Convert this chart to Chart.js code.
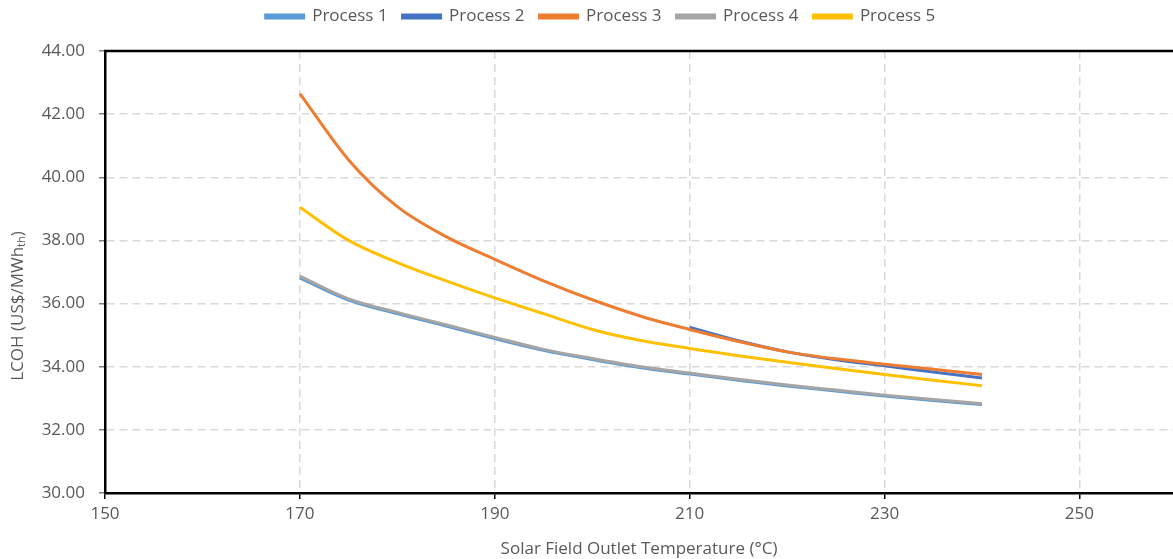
<!DOCTYPE html>
<html>
<head>
<meta charset="utf-8">
<script src="https://cdn.jsdelivr.net/npm/chart.js@4/dist/chart.umd.min.js"></script>
<style>
  html, body { margin: 0; background: #fff; }
</style>
</head>
<body>
<canvas id="chart" width="1173" height="559"></canvas>
<script>
(function () {

  const temperatures = [170, 175, 180, 185, 190, 195, 200, 205, 210, 215, 220, 225, 230, 235, 240];
  const process1 = [36.81, 36.11, 35.68, 35.29, 34.89, 34.52, 34.23, 33.97, 33.77, 33.57, 33.39, 33.23, 33.07, 32.93, 32.80];
  const process2 = [null, null, null, null, null, null, null, null, 35.24, 34.82, 34.47, 34.22, 34.03, 33.83, 33.64];
  const process3 = [42.65, 40.55, 39.07, 38.12, 37.40, 36.72, 36.12, 35.60, 35.18, 34.80, 34.47, 34.25, 34.08, 33.92, 33.75];
  const process4 = [36.87, 36.15, 35.72, 35.33, 34.93, 34.55, 34.26, 34.00, 33.80, 33.60, 33.42, 33.26, 33.10, 32.96, 32.83];
  const process5 = [39.05, 38.00, 37.30, 36.72, 36.18, 35.68, 35.18, 34.83, 34.58, 34.35, 34.14, 33.94, 33.75, 33.57, 33.40];

  const seriesNames = ["Process 1", "Process 2", "Process 3", "Process 4", "Process 5"];
  const seriesColors = ["#5B9BD5", "#4472C4", "#ED7D31", "#A5A5A5", "#FFC000"];
  const xTickValues = [150, 170, 190, 210, 230, 250];
  const xTitle = "Solar Field Outlet Temperature (°C)";
  const yTitleMain = "LCOH (US$/MWh";
  const yTitleSub = "th";
  const yTitleEnd = ")";

  const FONT = "'Open Sans', sans-serif";
  const FONT_SIZE = 17;
  const TEXT_COLOR = "#595959";
  const GRID_COLOR = "#d9d9d9";

  function toPoints(values) {
    const points = [];
    values.forEach(function (v, i) {
      if (v !== null) points.push({ x: temperatures[i], y: v });
    });
    return points;
  }

  const allSeries = [process1, process2, process3, process4, process5];
  const datasets = allSeries.map(function (values, i) {
    return {
      label: seriesNames[i],
      data: toPoints(values),
      borderColor: seriesColors[i],
      backgroundColor: seriesColors[i],
      borderWidth: 3,
      pointRadius: 0,
      cubicInterpolationMode: "monotone",
      fill: false,
      order: allSeries.length - i
    };
  });

  // fixed legend height so the plot starts where the reference does,
  // and the legend centred a bit right, over the plot
  const legendPlace = {
    id: "legendPlace",
    afterInit(chart) {
      const fit = chart.legend.fit;
      chart.legend.fit = function () {
        fit.call(this);
        this.height = 58;
      };
    },
    afterLayout(chart) {
      chart.legend.left = 14;
      chart.legend.right = chart.width + 14;
    }
  };

  // top frame line and the y title with its subscript
  const frameAndTitle = {
    id: "frameAndTitle",
    beforeDatasetsDraw(chart) {
      const ctx = chart.ctx;
      const a = chart.chartArea;
      ctx.save();
      ctx.strokeStyle = "#000";
      ctx.lineWidth = 2.5;
      ctx.beginPath();
      ctx.moveTo(a.left - 1, a.top);
      ctx.lineTo(a.right, a.top);
      ctx.stroke();
      ctx.restore();
    },
    afterDraw(chart) {
      const ctx = chart.ctx;
      ctx.save();
      ctx.translate(18, 306);
      ctx.rotate(-Math.PI / 2);
      ctx.fillStyle = TEXT_COLOR;
      ctx.textBaseline = "middle";
      ctx.textAlign = "left";
      ctx.font = FONT_SIZE + "px " + FONT;
      const w1 = ctx.measureText(yTitleMain).width;
      const w3 = ctx.measureText(yTitleEnd).width;
      ctx.font = "11px " + FONT;
      const w2 = ctx.measureText(yTitleSub).width;
      let x = -(w1 + w2 + w3) / 2;
      ctx.font = FONT_SIZE + "px " + FONT;
      ctx.fillText(yTitleMain, x, 0);
      x += w1;
      ctx.font = "11px " + FONT;
      ctx.fillText(yTitleSub, x, 4);
      x += w2;
      ctx.font = FONT_SIZE + "px " + FONT;
      ctx.fillText(yTitleEnd, x, 0);
      ctx.restore();
    }
  };

  new Chart(document.getElementById("chart"), {
    type: "line",
    data: { datasets: datasets },
    plugins: [legendPlace, frameAndTitle],
    options: {
      responsive: false,
      animation: false,
      devicePixelRatio: 1,
      layout: { padding: { top: -7, left: 0, right: 0, bottom: 0 } },
      plugins: {
        tooltip: { enabled: false },
        legend: {
          position: "top",
          labels: {
            boxWidth: 38,
            boxHeight: 3,
            padding: 15,
            color: TEXT_COLOR,
            font: { family: FONT, size: FONT_SIZE },
            sort: (a, b) => a.datasetIndex - b.datasetIndex
          }
        }
      },
      scales: {
        x: {
          type: "linear",
          min: 150,
          max: 259.6,
          afterBuildTicks: axis => { axis.ticks = xTickValues.map(v => ({ value: v })); },
          afterFit: axis => { axis.height = 66; },
          border: { display: true, color: "#000", width: 2.5, dash: [8, 5] },
          grid: {
            color: GRID_COLOR,
            lineWidth: 1.5,
            tickLength: 6,
            tickColor: "#000",
            tickWidth: 1.5
          },
          ticks: {
            color: TEXT_COLOR,
            padding: 5,
            maxRotation: 0,
            font: { family: FONT, size: FONT_SIZE }
          },
          title: {
            display: true,
            text: xTitle,
            color: TEXT_COLOR,
            font: { family: FONT, size: FONT_SIZE },
            padding: { top: 4, bottom: 0 }
          }
        },
        y: {
          min: 30,
          max: 44,
          afterFit: axis => { axis.width = 105; },
          border: { display: true, color: "#000", width: 2.5, dash: [8, 5] },
          grid: {
            color: GRID_COLOR,
            lineWidth: 1.5,
            tickLength: 6,
            tickColor: "#7f7f7f",
            tickWidth: 1.5
          },
          ticks: {
            stepSize: 2,
            color: TEXT_COLOR,
            padding: 14,
            font: { family: FONT, size: FONT_SIZE },
            callback: v => v.toFixed(2)
          }
        }
      }
    }
  });

})();
</script>
</body>
</html>
